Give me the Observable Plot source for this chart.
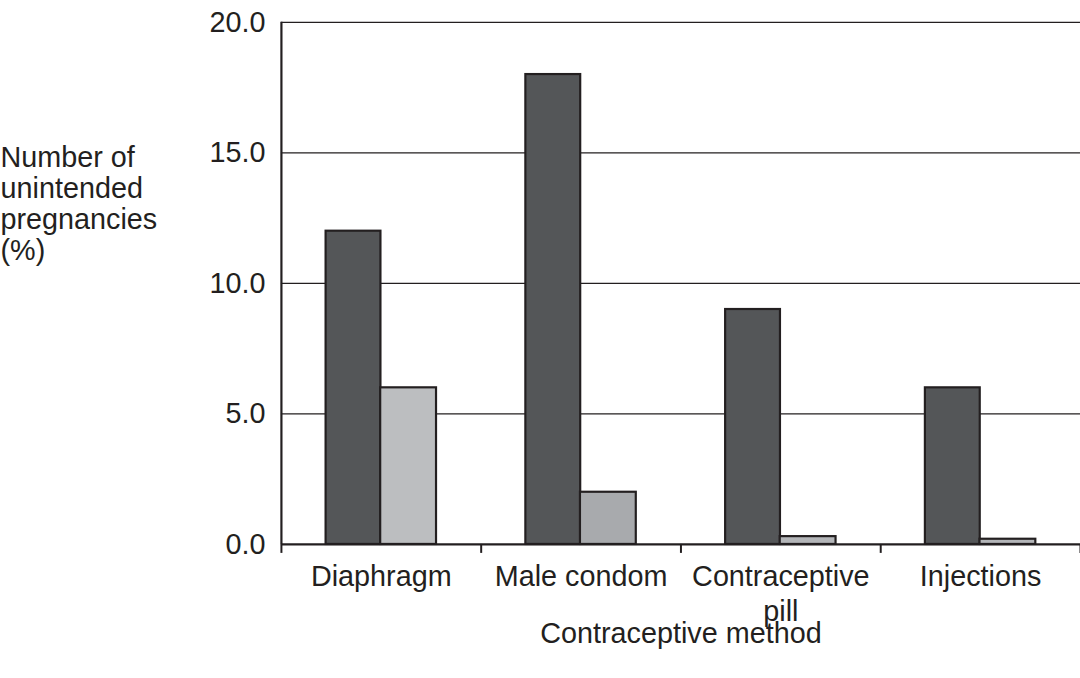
<!DOCTYPE html>
<html>
<head>
<meta charset="utf-8">
<script src="https://cdn.jsdelivr.net/npm/d3@7"></script>
<script src="https://cdn.jsdelivr.net/npm/@observablehq/plot@0.6"></script>
<style>
  html, body { margin: 0; padding: 0; background: #fff; overflow: hidden; }
  #chart svg { display: block; }
</style>
</head>
<body>
<div id="chart"></div>
<script>
// ---- data ----
const methods = ["Diaphragm", "Male condom", "Contraceptive pill", "Injections"];
const typicalUse = [12.0, 18.0, 9.0, 6.0];
const perfectUse = [6.0, 2.0, 0.3, 0.2];
const yTicks = [0, 5, 10, 15, 20];
const yTitle = "Number of\nunintended\npregnancies\n(%)";
const xTitle = "Contraceptive method";

// ---- styles ----
const ink = "#231f20";
const darkFill = "#545658";
const lightFills = {"Diaphragm": "#bcbec0", "Male condom": "#a8aaad", "Contraceptive pill": "#b4b6b9", "Injections": "#b4b6b9"};

const rows = methods.flatMap((m, i) => [
  {i, method: m, series: "typical", value: typicalUse[i]},
  {i, method: m, series: "perfect", value: perfectUse[i]}
]);
const bounds = d3.range(methods.length + 1);

const chart = Plot.plot({
  width: 1088,
  height: 678,
  marginLeft: 283,
  marginRight: 0,
  marginTop: 22,
  marginBottom: 130,
  style: {fontFamily: "'Liberation Sans', Arial, Helvetica, sans-serif", fontSize: "29px", color: ink, background: "#fff"},
  x: {domain: [0, methods.length], axis: null},
  y: {domain: [0, 20], ticks: yTicks, tickFormat: d3.format(".1f"), tickSize: 0, tickPadding: 16, label: null},
  marks: [
    Plot.ruleY(yTicks.filter(v => v > 0), {stroke: ink, strokeWidth: 1.3}),
    Plot.rectY(rows.filter(d => d.series === "typical"), {
      x1: d => d.i, x2: d => d.i + 1, y: "value",
      fill: darkFill, stroke: ink, strokeWidth: 2.2, insetLeft: 45, insetRight: 101
    }),
    Plot.rectY(rows.filter(d => d.series === "perfect"), {
      x1: d => d.i, x2: d => d.i + 1, y: "value",
      fill: d => lightFills[d.method], stroke: ink, strokeWidth: 2.2, insetLeft: 100, insetRight: 45
    }),
    Plot.ruleY([0], {stroke: ink, strokeWidth: 2.2}),
    Plot.ruleX([0], {stroke: ink, strokeWidth: 2.2}),
    Plot.ruleX(bounds, {x: d => d, y1: 0, y2: 0, insetBottom: -9, stroke: ink, strokeWidth: 2}),
    Plot.text(methods, {
      x: (d, i) => i + 0.5, y: () => 0, text: d => d,
      lineAnchor: "top", dy: 17, lineWidth: 7, lineHeight: 1.22, fill: ink
    }),
    Plot.text([xTitle], {frameAnchor: "bottom", lineAnchor: "top", dy: 79, text: d => d, fill: ink}),
    Plot.text([yTitle], {
      frameAnchor: "top-left", textAnchor: "start", lineAnchor: "top",
      dx: -283, dy: 124, lineHeight: 1.07, text: d => d, fill: ink
    })
  ]
});
document.getElementById("chart").appendChild(chart);
</script>
</body>
</html>
